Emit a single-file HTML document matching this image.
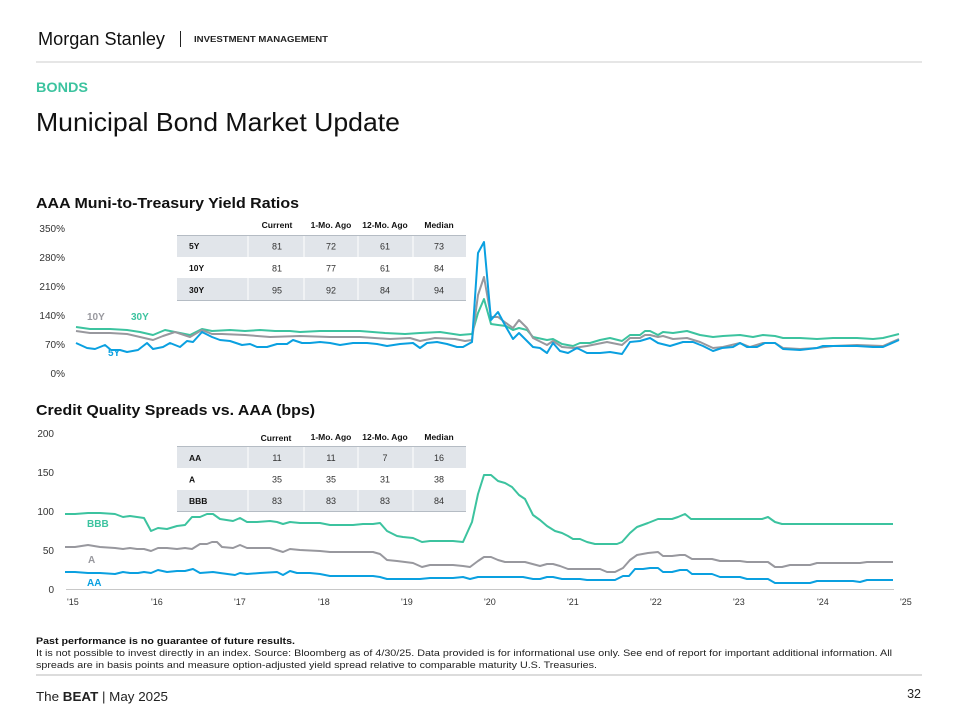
<!DOCTYPE html>
<html><head><meta charset="utf-8"><style>
html,body{margin:0;padding:0;background:#fff;}
svg{display:block;font-family:"Liberation Sans",Arial,sans-serif;}
</style></head><body>
<svg width="960" height="720" viewBox="0 0 960 720" xmlns="http://www.w3.org/2000/svg">
<!-- Header -->
<text x="38" y="45" font-size="18" fill="#111" textLength="127" lengthAdjust="spacingAndGlyphs">Morgan Stanley</text>
<line x1="180.5" y1="31" x2="180.5" y2="47" stroke="#222" stroke-width="1"/>
<text x="194" y="42" font-size="8" font-weight="bold" fill="#222" textLength="134" lengthAdjust="spacingAndGlyphs">INVESTMENT MANAGEMENT</text>
<line x1="36" y1="62" x2="922" y2="62" stroke="#ccc" stroke-width="1"/>
<text x="36" y="92" font-size="14" font-weight="bold" fill="#3cc39f" textLength="52" lengthAdjust="spacingAndGlyphs">BONDS</text>
<text x="36" y="131" font-size="26" fill="#111" textLength="364" lengthAdjust="spacingAndGlyphs">Municipal Bond Market Update</text>

<!-- Chart 1 -->
<text x="36" y="208" font-size="15" font-weight="bold" fill="#111" textLength="263" lengthAdjust="spacingAndGlyphs">AAA Muni-to-Treasury Yield Ratios</text>
<g font-size="10" fill="#333" text-anchor="end">
<text x="65" y="232">350%</text>
<text x="65" y="261">280%</text>
<text x="65" y="290">210%</text>
<text x="65" y="319">140%</text>
<text x="65" y="348">70%</text>
<text x="65" y="377">0%</text>
</g>
<!-- table 1 -->
<rect x="177" y="236" width="289" height="21" fill="#e1e5ea"/>
<rect x="177" y="278" width="289" height="22" fill="#e1e5ea"/>
<g stroke="#fff" stroke-width="1">
<line x1="248" y1="236" x2="248" y2="257"/><line x1="304" y1="236" x2="304" y2="257"/><line x1="358" y1="236" x2="358" y2="257"/><line x1="413" y1="236" x2="413" y2="257"/>
<line x1="248" y1="278" x2="248" y2="300"/><line x1="304" y1="278" x2="304" y2="300"/><line x1="358" y1="278" x2="358" y2="300"/><line x1="413" y1="278" x2="413" y2="300"/>
</g>
<line x1="177" y1="235.5" x2="466" y2="235.5" stroke="#b5bcc4" stroke-width="1"/>
<line x1="177" y1="300.5" x2="466" y2="300.5" stroke="#b5bcc4" stroke-width="1"/>
<g font-size="8.5" font-weight="bold" fill="#111" text-anchor="middle">
<text x="277" y="228">Current</text><text x="331" y="228">1-Mo. Ago</text><text x="385" y="228">12-Mo. Ago</text><text x="439" y="228">Median</text>
</g>
<g font-size="8.5" font-weight="bold" fill="#111">
<text x="189" y="249">5Y</text><text x="189" y="271">10Y</text><text x="189" y="293">30Y</text>
</g>
<g font-size="9" fill="#333" text-anchor="middle">
<text x="277" y="249.5">81</text><text x="331" y="249.5">72</text><text x="385" y="249.5">61</text><text x="439" y="249.5">73</text>
<text x="277" y="271.5">81</text><text x="331" y="271.5">77</text><text x="385" y="271.5">61</text><text x="439" y="271.5">84</text>
<text x="277" y="293.5">95</text><text x="331" y="293.5">92</text><text x="385" y="293.5">84</text><text x="439" y="293.5">94</text>
</g>
<g fill="none" stroke-width="2" stroke-linejoin="round">
<polyline stroke="#3cc39f" points="76,327 90,329 110,329 127,330 140,332 153,335 165,330 175,332 190,335 202,329 212,331 230,330 245,331 260,330 275,331 290,331 300,332 320,331 340,331 360,331 385,333 405,334 420,333 440,332 460,335 472,334 478,313 484,299 491,324 498,325 506,326 513,330 519,328 527,330 533,337 547,340 553,339 562,344 573,346 580,343 590,343 600,340 610,338 622,341 630,335 640,335 645,331 650,331 658,335 663,332 673,333 687,331 700,335 713,337 723,336 740,335 753,337 763,335 775,336 783,338 800,338 817,339 833,338 857,338 873,339 883,338 899,334"/>
<polyline stroke="#98989e" points="76,331 90,333 110,333 127,334 140,337 153,340 163,336 175,332 190,337 202,330 212,334 222,334 245,335 270,337 300,336 330,337 360,337 390,339 410,338 420,341 435,338 455,339 465,341 472,340 478,295 484,277 491,317 498,317 506,323 513,328 519,320 527,328 533,338 547,345 553,341 562,347 573,348 587,346 607,342 622,345 630,338 640,338 645,335 650,335 658,337 663,336 673,339 687,338 700,342 713,348 723,347 740,343 750,347 763,343 775,343 783,348 800,349 817,348 833,346 857,345 883,346 899,339"/>
<polyline stroke="#0aa0e0" points="76,343 87,348 95,349 105,345 111,350 120,350 127,352 138,350 147,343 153,349 163,347 170,343 180,347 187,341 193,342 202,332 212,337 220,340 230,341 242,345 250,344 257,347 267,347 277,344 287,344 293,340 302,343 310,343 320,342 330,343 340,345 353,343 367,343 377,344 387,346 400,344 413,343 420,348 427,343 437,342 447,344 457,347 463,347 472,342 478,253 484,242 491,320 498,312 506,327 513,339 519,333 527,341 533,347 540,348 547,353 553,343 560,351 568,353 577,348 587,353 600,353 610,352 622,354 630,342 640,341 650,338 658,343 670,346 683,342 693,342 703,346 713,351 722,348 733,347 740,343 747,347 757,347 765,343 775,343 783,349 800,350 817,348 823,346 840,346 857,346 873,347 883,347 899,340"/>
</g>
<g font-size="10" font-weight="bold">
<text x="87" y="320" fill="#98989e">10Y</text>
<text x="131" y="320" fill="#3cc39f">30Y</text>
<text x="108" y="356" fill="#0aa0e0">5Y</text>
</g>

<!-- Chart 2 -->
<text x="36" y="415" font-size="15" font-weight="bold" fill="#111" textLength="279" lengthAdjust="spacingAndGlyphs">Credit Quality Spreads vs. AAA (bps)</text>
<g font-size="10" fill="#333" text-anchor="end">
<text x="54" y="437">200</text>
<text x="54" y="476">150</text>
<text x="54" y="515">100</text>
<text x="54" y="554">50</text>
<text x="54" y="593">0</text>
</g>
<rect x="177" y="447" width="289" height="21" fill="#e1e5ea"/>
<rect x="177" y="490" width="289" height="21" fill="#e1e5ea"/>
<g stroke="#fff" stroke-width="1">
<line x1="248" y1="447" x2="248" y2="468"/><line x1="304" y1="447" x2="304" y2="468"/><line x1="358" y1="447" x2="358" y2="468"/><line x1="413" y1="447" x2="413" y2="468"/>
<line x1="248" y1="490" x2="248" y2="511"/><line x1="304" y1="490" x2="304" y2="511"/><line x1="358" y1="490" x2="358" y2="511"/><line x1="413" y1="490" x2="413" y2="511"/>
</g>
<line x1="177" y1="446.5" x2="466" y2="446.5" stroke="#b5bcc4" stroke-width="1"/>
<line x1="177" y1="511.5" x2="466" y2="511.5" stroke="#b5bcc4" stroke-width="1"/>
<g font-size="8.5" font-weight="bold" fill="#111" text-anchor="middle">
<text x="276" y="441">Current</text><text x="331" y="440">1-Mo. Ago</text><text x="385" y="440">12-Mo. Ago</text><text x="439" y="440">Median</text>
</g>
<g font-size="8.5" font-weight="bold" fill="#111">
<text x="189" y="461">AA</text><text x="189" y="482.5">A</text><text x="189" y="504">BBB</text>
</g>
<g font-size="9" fill="#333" text-anchor="middle">
<text x="277" y="461">11</text><text x="331" y="461">11</text><text x="385" y="461">7</text><text x="439" y="461">16</text>
<text x="277" y="482.5">35</text><text x="331" y="482.5">35</text><text x="385" y="482.5">31</text><text x="439" y="482.5">38</text>
<text x="277" y="504">83</text><text x="331" y="504">83</text><text x="385" y="504">83</text><text x="439" y="504">84</text>
</g>
<line x1="66" y1="589.5" x2="894" y2="589.5" stroke="#c8c8c8" stroke-width="1"/>
<g fill="none" stroke-width="2" stroke-linejoin="round">
<polyline stroke="#3cc39f" points="65,514 75,514 88,513 100,513 115,514 123,517 130,516 137,517 144,518 151,531 158,528 167,529 177,526 185,525 192,517 200,517 207,514 213,514 220,519 233,521 240,518 247,522 257,522 270,521 277,522 283,524 290,522 300,523 310,523 320,523 330,525 353,525 363,524 373,524 380,523 387,531 397,536 403,537 413,538 422,542 430,541 453,541 463,542 472,522 478,494 484,475 491,475 498,481 505,483 512,487 519,495 525,499 533,515 540,520 547,526 555,531 562,533 568,536 573,539 580,539 587,542 595,544 617,544 622,542 630,533 637,527 648,523 658,519 672,519 678,517 685,514 691,519 762,519 768,517 775,522 782,524 893,524"/>
<polyline stroke="#98989e" points="65,547 75,547 88,545 100,547 115,548 123,549 130,548 137,549 144,549 151,551 158,548 167,548 177,549 185,548 192,549 200,544 207,544 212,542 217,542 222,547 233,548 240,545 247,548 260,548 270,548 283,552 290,549 300,550 320,551 330,552 353,552 373,552 380,554 387,560 397,561 413,563 422,567 430,565 453,565 463,566 470,567 478,561 484,557 491,557 498,560 505,562 525,562 540,566 547,564 553,564 560,566 568,569 600,569 607,572 615,572 623,568 630,560 637,555 648,553 658,552 663,556 672,556 680,555 685,555 692,559 712,559 720,561 740,561 747,562 768,562 775,567 782,567 790,565 810,565 817,563 853,563 860,563 867,562 893,562"/>
<polyline stroke="#0aa0e0" points="65,572 75,572 88,573 100,573 115,574 123,572 130,573 138,573 144,572 151,573 158,570 167,572 177,571 185,571 193,569 200,573 213,572 220,573 235,575 240,573 247,574 260,573 277,572 283,575 290,571 297,573 310,573 320,574 330,576 353,576 373,576 380,577 387,579 420,579 430,578 453,578 463,577 470,579 478,577 523,577 533,579 540,579 547,577 553,577 562,579 580,579 587,580 615,580 623,576 629,576 635,569 643,569 650,568 658,568 663,572 672,572 680,570 687,570 692,574 712,574 720,577 740,577 747,579 768,579 775,583 810,583 817,581 853,581 860,582 867,580 893,580"/>
</g>
<g font-size="10" font-weight="bold">
<text x="87" y="527" fill="#3cc39f">BBB</text>
<text x="88" y="563" fill="#98989e">A</text>
<text x="87" y="586" fill="#0aa0e0">AA</text>
</g>
<g font-size="9" fill="#333">
<text x="67" y="605">'15</text><text x="151" y="605">'16</text><text x="234" y="605">'17</text><text x="318" y="605">'18</text><text x="401" y="605">'19</text>
<text x="484" y="605">'20</text><text x="567" y="605">'21</text><text x="650" y="605">'22</text><text x="733" y="605">'23</text><text x="817" y="605">'24</text><text x="900" y="605">'25</text>
</g>

<!-- Footer -->
<text x="36" y="644" font-size="9.5" font-weight="bold" fill="#111" textLength="259" lengthAdjust="spacingAndGlyphs">Past performance is no guarantee of future results.</text>
<text x="36" y="656" font-size="9.5" fill="#222" textLength="856" lengthAdjust="spacingAndGlyphs">It is not possible to invest directly in an index. Source: Bloomberg as of 4/30/25. Data provided is for informational use only. See end of report for important additional information. All</text>
<text x="36" y="668" font-size="9.5" fill="#222" textLength="561" lengthAdjust="spacingAndGlyphs">spreads are in basis points and measure option-adjusted yield spread relative to comparable maturity U.S. Treasuries.</text>
<line x1="36" y1="675" x2="922" y2="675" stroke="#d0d0d0" stroke-width="1.5"/>
<text x="36" y="701" font-size="12.5" fill="#222" textLength="132" lengthAdjust="spacingAndGlyphs">The <tspan font-weight="bold">BEAT</tspan> | May 2025</text>
<text x="921" y="698" font-size="12.5" fill="#222" text-anchor="end">32</text>
</svg>
</body></html>
